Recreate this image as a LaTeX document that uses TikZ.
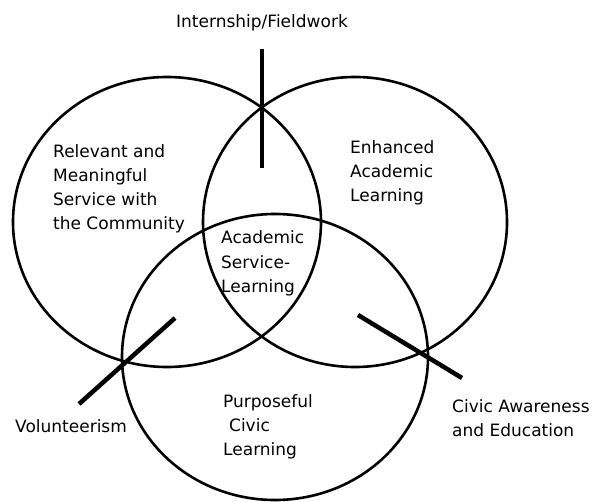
\documentclass[tikz,border=0pt]{standalone}
\usepackage{fontspec}
\setmainfont{DejaVu Sans}
\begin{document}
\begin{tikzpicture}[x=1pt,y=-1pt,
  ring/.style={draw=black,line width=2.6pt},
  bar/.style={draw=black,line width=4.5pt},
  lbl/.style={inner sep=0pt,anchor=base west,align=left,font=\fontsize{17}{24}\selectfont}]
\useasboundingbox[fill=white] (0,0) rectangle (596,502);
% circles
\draw[ring] (167,222) ellipse [x radius=154pt, y radius=145pt];
\draw[ring] (355,222) ellipse [x radius=152pt, y radius=145pt];
\draw[ring] (275,357) ellipse [x radius=153pt, y radius=143pt];
% bars
\coordinate (it) at (262,49);
\coordinate (ib) at (262,168);
\coordinate (vt) at (175,318);
\coordinate (vb) at (79,404);
\coordinate (ct) at (358,315);
\coordinate (cb) at (462,378);
\draw[bar] (it) -- (ib);
\draw[bar] (vt) -- (vb);
\draw[bar] (ct) -- (cb);
% labels (anchor = baseline of last line)
\node[lbl] (intern) at (176,28) {Internship/Fieldwork};
\node[lbl] (relev) at (53,230) {Relevant and\\Meaningful\\Service with\\the Community};
\node[lbl] (enh) at (350,202) {Enhanced\\Academic\\Learning};
\node[lbl] (asl) at (221,292) {Academic\\Service-\\Learning};
\node[lbl] (purp) at (223,455) {Purposeful\\\hspace*{0.35em}Civic\\Learning};
\node[lbl] (vol) at (15,432) {Volunteerism};
\node[lbl] (civic) at (452,436) {Civic Awareness\\and Education};
\end{tikzpicture}
\end{document}
